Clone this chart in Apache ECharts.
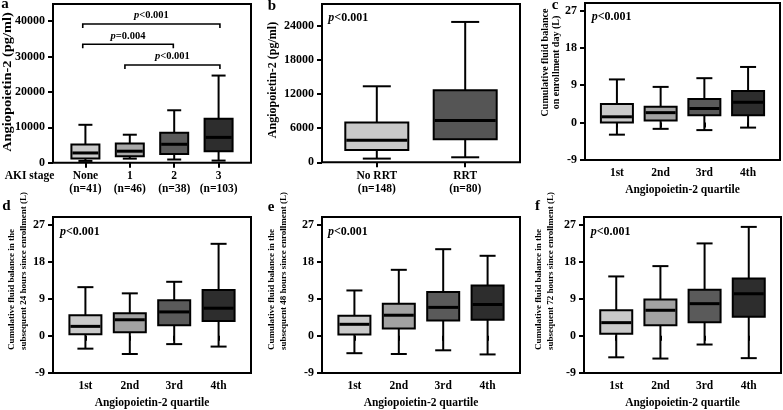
<!DOCTYPE html>
<html>
<head>
<meta charset="utf-8">
<script src="https://cdn.jsdelivr.net/npm/echarts@6/dist/echarts.min.js"></script>
<style>html,body{margin:0;padding:0;background:#fff}#chart{width:783px;height:410px}</style>
</head>
<body>
<div id="chart"></div>
<script>
// ---------- data: [min, Q1, median, Q3, max] ----------
const aCategories = ['None\n(n=41)', '1\n(n=46)', '2\n(n=38)', '3\n(n=103)'];
const aStats = [
  [500, 1200, 2750, 5150, 10700],
  [1150, 1800, 3250, 5400, 7900],
  [900, 2450, 5200, 8450, 14800],
  [600, 3200, 7150, 12400, 24600]
];
const aBrackets = [[0.94, 4.03, 39150], [0.94, 2.98, 33420], [1.89, 4.03, 27580]];
const aBracketLabels = ['<0.001', '=0.004', '<0.001'];
const aYTicks = [0, 10000, 20000, 30000, 40000];

const bCategories = ['No RRT\n(n=148)', 'RRT\n(n=80)'];
const bStats = [
  [650, 2180, 3880, 7000, 13350],
  [880, 4060, 7350, 12650, 24650]
];
const bYTicks = [0, 6000, 12000, 18000, 24000];

const qCategories = ['1st', '2nd', '3rd', '4th'];
const cStats = [
  [-2.9, 0.0, 1.4, 4.5, 10.4],
  [-1.5, 0.5, 2.4, 3.8, 8.6],
  [-1.8, 1.8, 3.4, 5.7, 10.7],
  [-1.2, 1.8, 4.9, 7.6, 13.4]
];
const dStats = [
  [-3.1, 0.4, 2.3, 5.0, 11.8],
  [-4.4, 0.9, 3.9, 5.5, 10.3],
  [-2.0, 2.6, 5.8, 8.6, 13.1],
  [-2.6, 3.6, 6.7, 11.1, 22.3]
];
const eStats = [
  [-4.2, 0.3, 2.8, 4.9, 11.0],
  [-4.4, 1.8, 5.0, 7.8, 16.0],
  [-3.5, 3.7, 6.9, 10.6, 21.0],
  [-4.5, 3.9, 7.6, 12.2, 19.4]
];
const fStats = [
  [-5.2, 0.5, 3.2, 6.2, 14.4],
  [-5.5, 2.6, 6.2, 8.8, 16.9],
  [-2.1, 3.3, 7.8, 11.2, 22.4],
  [-5.4, 4.6, 10.2, 13.9, 26.4]
];
const fluidYTicks = [-9, 0, 9, 18, 27];
const pText = '<0.001';

// ---------- styles ----------
const SERIF = "'Liberation Serif', 'Times New Roman', serif";
const greys4 = ['#c9c9c9', '#a2a2a2', '#5a5a5a', '#2d2d2d'];
const greysA = ['#c9c9c9', '#a8a8a8', '#5a5a5a', '#2d2d2d'];
const greysB = ['#c9c9c9', '#555555'];

const grids = [
  {left: 53, top: 4, width: 198, height: 158.7},
  {left: 322, top: 4, width: 198, height: 158.3},
  {left: 585, top: 3, width: 195, height: 157},
  {left: 53, top: 217, width: 198, height: 157.8},
  {left: 322, top: 217, width: 198, height: 157.8},
  {left: 584, top: 217, width: 197, height: 157.8}
].map(g => Object.assign({show: true, borderColor: '#000', borderWidth: 2, backgroundColor: 'transparent'}, g));

function xAx(gi, cats, min, max, name) {
  const pos = cats.map((c, i) => i + 1);
  return {
    type: 'value', gridIndex: gi, min: min, max: max,
    splitLine: {show: false}, axisLine: {show: false},
    axisTick: {show: true, customValues: pos, length: 5, lineStyle: {color: '#000', width: 2}},
    axisLabel: {customValues: pos, formatter: v => cats[Math.round(v) - 1], margin: 7, color: '#000',
      fontFamily: SERIF, fontWeight: 'bold', fontSize: 11.5, lineHeight: 13},
    name: name || '', nameLocation: 'middle', nameGap: 24,
    nameTextStyle: {color: '#000', fontFamily: SERIF, fontWeight: 'bold', fontSize: 11.5}
  };
}
function yAx(gi, min, max, ticks) {
  return {
    type: 'value', gridIndex: gi, min: min, max: max,
    splitLine: {show: false}, axisLine: {show: false},
    axisTick: {show: true, customValues: ticks, length: 5, lineStyle: {color: '#000', width: 2}},
    axisLabel: {customValues: ticks, formatter: v => String(v), margin: 8, color: '#000',
      fontFamily: SERIF, fontWeight: 'bold', fontSize: 12}
  };
}

function boxRenderer(boxW, capW, colors) {
  return function (params, api) {
    const x = api.value(0);
    const pMin = api.coord([x, api.value(1)]);
    const pQ1 = api.coord([x, api.value(2)]);
    const pMed = api.coord([x, api.value(3)]);
    const pQ3 = api.coord([x, api.value(4)]);
    const pMax = api.coord([x, api.value(5)]);
    const cx = pMin[0];
    const ls = {stroke: '#000', lineWidth: 2};
    return {type: 'group', children: [
      {type: 'line', shape: {x1: cx, y1: pMax[1], x2: cx, y2: pQ3[1]}, style: ls},
      {type: 'line', shape: {x1: cx, y1: pQ1[1], x2: cx, y2: pMin[1]}, style: ls},
      {type: 'line', shape: {x1: cx - capW / 2, y1: pMax[1], x2: cx + capW / 2, y2: pMax[1]}, style: ls},
      {type: 'line', shape: {x1: cx - capW / 2, y1: pMin[1], x2: cx + capW / 2, y2: pMin[1]}, style: ls},
      {type: 'rect', shape: {x: cx - boxW / 2, y: pQ3[1], width: boxW, height: pQ1[1] - pQ3[1]},
        style: {fill: colors[params.dataIndex], stroke: '#000', lineWidth: 2}},
      {type: 'line', shape: {x1: cx - boxW / 2 + 1, y1: pMed[1], x2: cx + boxW / 2 - 1, y2: pMed[1]},
        style: {stroke: '#000', lineWidth: 3}}
    ]};
  };
}
function boxSeries(gi, stats, boxW, capW, colors) {
  return {
    type: 'custom', xAxisIndex: gi, yAxisIndex: gi, silent: true, animation: false,
    data: stats.map((s, i) => [i + 1].concat(s)),
    encode: {x: 0, y: [1, 2, 3, 4, 5]},
    renderItem: boxRenderer(boxW, capW, colors)
  };
}

const pRich = (size) => ({
  i: {fontStyle: 'italic', fontWeight: 'bold', fontSize: size, fontFamily: SERIF, fill: '#000', color: '#000'},
  n: {fontWeight: 'bold', fontSize: size, fontFamily: SERIF, fill: '#000', color: '#000'}
});

const bracketSeries = {
  type: 'custom', xAxisIndex: 0, yAxisIndex: 0, silent: true, animation: false,
  data: aBrackets.map((b, i) => b.concat([i])),
  encode: {x: [0, 1], y: 2},
  renderItem: function (params, api) {
    const p1 = api.coord([api.value(0), api.value(2)]);
    const p2 = api.coord([api.value(1), api.value(2)]);
    const drop = 4;
    return {type: 'group', children: [
      {type: 'polyline', shape: {points: [[p1[0], p1[1] + drop], [p1[0], p1[1]], [p2[0], p2[1]], [p2[0], p2[1] + drop]]},
        style: {stroke: '#000', lineWidth: 1.6, fill: null}},
      {type: 'text', x: (p1[0] + p2[0]) / 2, y: p1[1] - 8.5,
        style: {text: '{i|p}{n|' + aBracketLabels[params.dataIndex] + '}', rich: pRich(10.5),
          textAlign: 'center', textVerticalAlign: 'middle'}}
    ]};
  }
};

function txt(x, y, text, opts) {
  return Object.assign({type: 'text', x: x, y: y, silent: true,
    style: Object.assign({text: text, fill: '#000', fontFamily: SERIF, fontWeight: 'bold', fontSize: 12,
      textAlign: 'center', textVerticalAlign: 'middle'}, opts.style || {})}, opts.el || {});
}
function pLabel(x, y) {
  return {type: 'text', x: x, y: y, silent: true,
    style: {text: '{i|p}{n|' + pText + '}', rich: pRich(12), textAlign: 'left', textVerticalAlign: 'middle'}};
}
const ROT = Math.PI / 2;

const graphics = [
  // panel letters
  txt(5, 4, 'a', {style: {fontSize: 15}}),
  txt(272, 6, 'b', {style: {fontSize: 15}}),
  txt(555, 5, 'c', {style: {fontSize: 15}}),
  txt(6.5, 206, 'd', {style: {fontSize: 15}}),
  txt(271, 207, 'e', {style: {fontSize: 15}}),
  txt(537.5, 206, 'f', {style: {fontSize: 15}}),
  // y-axis names
  txt(7.5, 82, 'Angiopoietin-2 (pg/ml)', {el: {rotation: ROT, scaleX: 1.2}}),
  txt(273.3, 80, 'Angiopoietin-2 (pg/ml)', {el: {rotation: ROT}}),
  txt(550.5, 62.5, 'Cumulative fluid balance\non enrollment day (L)', {el: {rotation: ROT}, style: {fontSize: 10, lineHeight: 11}}),
  txt(18, 350, 'Cumulative fluid balance in the\nsubsequent 24 hours since enrollment (L)', {el: {rotation: ROT}, style: {fontSize: 9, lineHeight: 11.7, textAlign: 'left'}}),
  txt(278, 350, 'Cumulative fluid balance in the\nsubsequent 48 hours since enrollment (L)', {el: {rotation: ROT}, style: {fontSize: 9, lineHeight: 11.7, textAlign: 'left'}}),
  txt(544.5, 350, 'Cumulative fluid balance in the\nsubsequent 72 hours since enrollment (L)', {el: {rotation: ROT}, style: {fontSize: 9, lineHeight: 11.7, textAlign: 'left'}}),
  // AKI stage label
  txt(29.5, 176, 'AKI stage', {style: {fontSize: 11.5}}),
  // p-values
  pLabel(328.3, 18.3),
  pLabel(591.7, 16.7),
  pLabel(60, 231.7),
  pLabel(328, 231.7),
  pLabel(590.7, 231.7)
];

const option = {
  animation: false,
  backgroundColor: '#fff',
  grid: grids,
  xAxis: [
    xAx(0, aCategories, 0.27, 4.73),
    xAx(1, bCategories, 0.38, 2.62),
    xAx(2, qCategories, 0.27, 4.73, 'Angiopoietin-2 quartile'),
    xAx(3, qCategories, 0.27, 4.73, 'Angiopoietin-2 quartile'),
    xAx(4, qCategories, 0.27, 4.73, 'Angiopoietin-2 quartile'),
    xAx(5, qCategories, 0.27, 4.73, 'Angiopoietin-2 quartile')
  ],
  yAxis: [
    yAx(0, 0, 44800, aYTicks),
    yAx(1, 0, 27800, bYTicks),
    yAx(2, -9, 28.8, fluidYTicks),
    yAx(3, -9, 28.8, fluidYTicks),
    yAx(4, -9, 28.8, fluidYTicks),
    yAx(5, -9, 28.8, fluidYTicks)
  ],
  series: [
    boxSeries(0, aStats, 28, 14, greysA),
    boxSeries(1, bStats, 63, 28, greysB),
    boxSeries(2, cStats, 32, 16, greys4),
    boxSeries(3, dStats, 32, 16, greys4),
    boxSeries(4, eStats, 32, 16, greys4),
    boxSeries(5, fStats, 32, 16, greys4),
    bracketSeries
  ],
  graphic: graphics
};

const chart = echarts.init(document.getElementById('chart'), null, {renderer: 'canvas'});
chart.setOption(option);
</script>
</body>
</html>
